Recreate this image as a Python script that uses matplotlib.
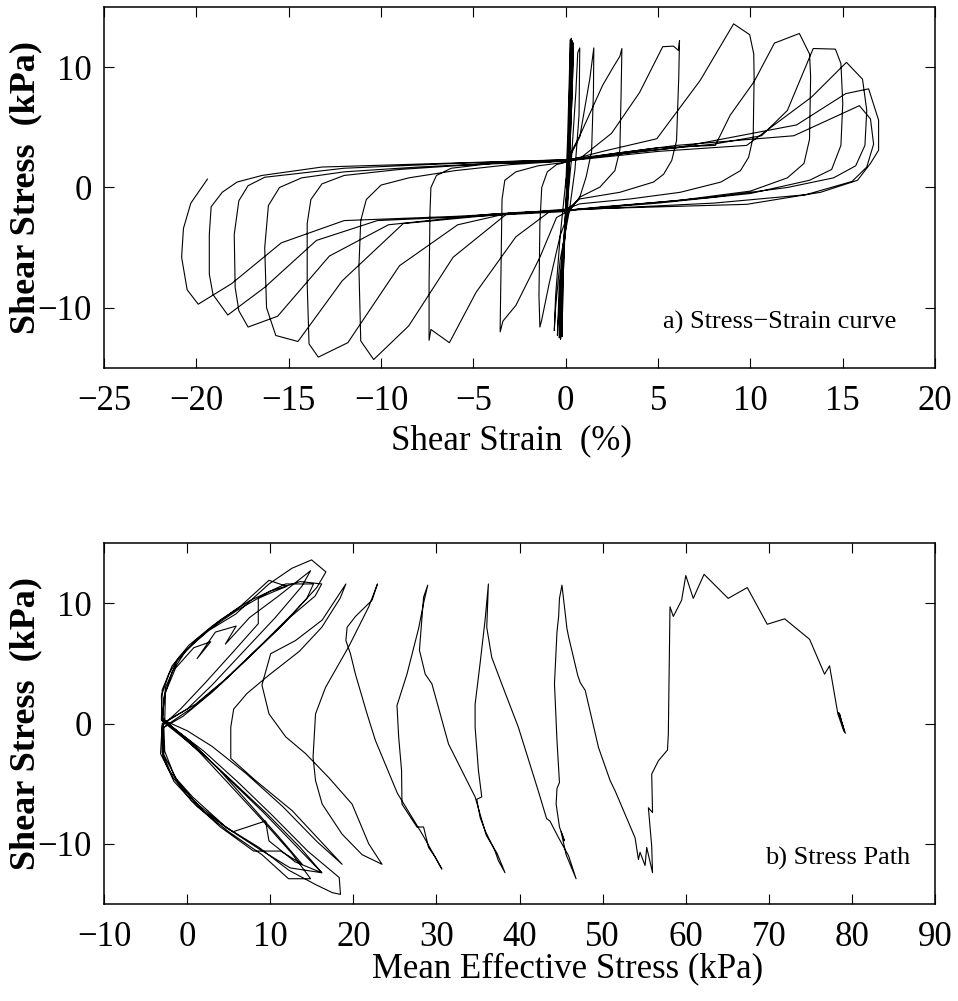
import numpy as np
import matplotlib
matplotlib.use("Agg")
import matplotlib.pyplot as plt

plt.rcParams['font.family'] = ['Liberation Serif', 'DejaVu Serif']

# ---- a) stress-strain: shear strain (%) vs shear stress (kPa), one continuous record ----
ss_early = [(0.0, 0.0), (0.1, 4.0), (0.25, 12.3),
            (0.22, 8.0), (0.12, 2.2), (0.0, -2.0), (-0.15, -8.0), (-0.2, -12.4),
            (-0.15, -8.0), (-0.02, -2.0), (0.12, 2.2), (0.2, 8.0), (0.3, 12.4),
            (0.25, 8.0), (0.15, 2.2), (0.02, -2.0), (-0.2, -8.0), (-0.28, -12.6),
            (-0.2, -8.0), (0.0, -2.0), (0.15, 2.2), (0.28, 8.0), (0.35, 12.2),
            (0.3, 8.0), (0.18, 2.2), (0.05, -2.0), (-0.25, -8.0), (-0.35, -12.5),
            (-0.28, -8.0), (0.0, -2.0), (0.2, 2.2), (0.35, 8.0), (0.42, 12.0),
            (0.35, 8.0), (0.2, 2.2), (0.1, -1.9), (-0.3, -8.0), (-0.45, -12.3),
            (-0.35, -8.0), (0.05, -1.9), (0.3, 2.2), (0.55, 8.0), (0.65, 11.2), (0.76, 11.6),
            (0.72, 6.0), (0.5, 1.5), (0.2, -1.9), (-0.3, -6.0), (-0.55, -10.0), (-0.62, -11.9)]
ss_cyc1 = [(-0.55, -9.0), (-0.3, -4.0), (0.0, 0.5), (0.3, 2.8), (0.76, 4.2), (1.3, 9.0), (1.52, 11.6),
           (1.5, 8.0), (1.4, 3.0), (1.1, 0.85), (0.76, -0.8), (0.2, -1.9), (-0.3, -4.0), (-0.9, -8.0),
           (-1.3, -11.0), (-1.4, -11.6)]
ss_cyc2 = [(-1.45, -9.0), (-1.4, -3.0), (-1.3, 0.0), (-1.0, 1.3), (-0.5, 1.9), (0.0, 2.1), (0.76, 4.3),
           (2.0, 8.5), (2.57, 10.0), (2.93, 10.9), (3.04, 11.55),
           (3.0, 8.0), (2.93, 3.1), (2.66, 1.4), (1.85, 0.03), (0.76, -0.8), (0.2, -1.9), (-0.5, -2.5),
           (-1.4, -5.8), (-2.7, -9.8), (-3.4, -11.1), (-3.55, -12.0)]
ss_cyc3 = [(-3.55, -11.5), (-3.5, -6.0), (-3.45, -1.0), (-3.3, 0.6), (-2.7, 1.3), (-1.5, 1.8), (0.0, 2.1),
           (0.76, 2.4), (2.48, 4.5), (4.0, 7.9), (5.25, 11.7), (5.83, 11.75), (6.1, 11.4), (6.16, 12.2),
           (6.12, 9.2), (6.0, 3.9), (5.74, 2.25), (5.3, 1.1), (4.75, 0.45), (2.93, -0.4), (0.76, -0.95),
           (0.0, -1.9), (-0.87, -2.0), (-2.7, -4.1), (-4.85, -8.7), (-6.3, -12.9), (-7.3, -11.8), (-7.4, -12.7)]
ss_cyc4 = [(-7.4, -8.0), (-7.35, -2.0), (-7.3, 0.0), (-7.0, 1.0), (-6.2, 1.6), (-4.0, 2.0), (-2.0, 2.1),
           (0.0, 2.2), (2.0, 3.0), (4.93, 4.05), (7.28, 8.9), (9.09, 13.6), (9.96, 12.7), (10.18, 11.1),
           (10.2, 9.2), (10.15, 4.2), (9.9, 2.5), (9.46, 1.4), (8.4, 0.45), (6.2, -0.4), (3.5, -0.95),
           (0.76, -1.36), (0.0, -1.8), (-3.2, -2.2), (-6.1, -5.8), (-8.5, -11.5), (-10.4, -14.3)]
ss_cyc5 = [(-11.1, -12.75), (-11.2, -6.6), (-11.1, -2.75), (-10.8, -1.0), (-10.0, 0.2), (-8.5, 0.8),
           (-6.0, 1.4), (-3.0, 1.9), (0.0, 2.2), (2.5, 2.8), (5.0, 3.3), (8.1, 3.5), (8.9, 6.0), (10.2, 8.8),
           (11.3, 12.0), (12.65, 12.8), (13.2, 11.1), (13.26, 9.2), (13.2, 4.0), (12.9, 2.0), (12.0, 0.8),
           (10.0, -0.3), (6.0, -1.1), (2.0, -1.6), (0.0, -1.9), (-3.0, -2.1), (-5.85, -3.1), (-9.0, -6.5),
           (-11.8, -12.9), (-13.4, -14.1)]
ss_cyc6 = [(-13.9, -13.0), (-14.0, -8.0), (-14.0, -3.0), (-13.8, -1.0), (-13.2, 0.3), (-12.0, 1.0),
           (-9.0, 1.5), (-5.0, 1.9), (0.0, 2.2), (4.0, 3.0), (8.0, 3.6), (10.6, 4.3), (12.0, 6.4),
           (13.4, 11.55), (14.6, 11.5), (14.9, 10.3), (15.0, 7.0), (14.9, 3.5), (14.4, 1.5), (13.2, 0.6),
           (10.0, -0.5), (5.0, -1.3), (0.0, -1.9), (-4.0, -2.3), (-8.8, -3.0), (-12.1, -7.75),
           (-14.5, -12.8), (-15.7, -12.3)]
ss_cyc7 = [(-16.2, -10.0), (-16.3, -5.0), (-16.1, -1.5), (-15.5, 0.0), (-14.3, 0.8), (-12.0, 1.3),
           (-8.0, 1.7), (-4.0, 2.0), (0.0, 2.2), (5.0, 3.0), (9.8, 3.5), (13.3, 7.5), (15.2, 10.4),
           (16.07, 9.0), (16.3, 6.4), (16.2, 3.5), (15.7, 1.8), (14.5, 0.8), (12.0, 0.0), (8.0, -0.8),
           (3.0, -1.5), (0.0, -1.9), (-4.0, -2.2), (-9.6, -3.1), (-12.8, -5.7), (-15.6, -10.7), (-17.2, -11.6)]
ss_cyc8 = [(-17.7, -10.25), (-17.9, -8.3), (-17.95, -3.9), (-17.7, -1.1), (-17.2, 0.15), (-16.3, 0.85),
           (-12.0, 1.6), (-6.0, 2.0), (0.0, 2.3), (6.0, 3.3), (12.5, 5.2), (15.16, 7.8), (16.4, 8.2),
           (16.94, 5.6), (16.94, 3.1), (16.5, 2.0), (15.8, 0.6), (13.8, -0.4), (9.8, -1.4), (0.76, -1.8),
           (0.0, -2.0), (-5.0, -2.4), (-10.2, -2.75), (-13.5, -4.4), (-16.3, -8.3), (-18.3, -10.6)]
ss_cyc9 = [(-19.1, -8.9), (-19.3, -7.2), (-19.3, -3.9), (-19.2, -1.6), (-18.6, -0.4), (-17.8, 0.45),
           (-16.45, 1.0), (-13.2, 1.7), (-2.5, 2.2), (0.0, 2.3), (6.0, 3.5), (12.35, 4.3), (15.9, 6.8),
           (16.5, 5.7), (16.67, 3.6), (16.3, 1.7), (15.5, 0.5), (13.0, -0.6), (8.0, -1.3), (0.0, -1.9),
           (-6.0, -2.4), (-12.0, -2.75), (-15.4, -4.6), (-18.1, -8.0), (-19.9, -9.7), (-20.5, -8.5),
           (-20.8, -5.8), (-20.7, -3.4), (-20.3, -1.3), (-19.4, 0.7)]

# ---- b) stress path: mean effective stress (kPa) vs shear stress (kPa) ----
sp_start = [(79.2, -0.8), (78.4, 0.9), (79.1, -0.7), (78.5, 0.8), (79.0, -0.6), (78.3, 0.8),
            (77.3, 4.8), (76.7, 4.1), (74.9, 7.0), (71.9, 8.7), (69.8, 8.25), (67.4, 11.3), (65.1, 10.4),
            (62.2, 12.4), (60.9, 10.4), (60.0, 12.3), (59.5, 10.25), (58.5, 8.9), (58.1, 9.7),
            (57.9, -0.86), (57.8, -2.2), (56.7, -3.1), (55.9, -4.2), (56.0, -7.4), (55.5, -7.0),
            (55.9, -10.2), (56.0, -12.4)]
sp_cycA = [(55.3, -10.3), (55.1, -11.8), (54.5, -10.7), (54.3, -11.3), (53.9, -9.5), (51.5, -5.6),
           (50.9, -4.75), (49.5, -2.0), (47.9, 2.75), (47.3, 3.4), (47.0, 4.0), (45.9, 7.2), (45.7, 7.9),
           (45.1, 11.5), (44.8, 10.4), (44.7, 8.9), (44.5, 7.6), (44.2, 3.3), (44.5, -1.4), (44.8, -4.9),
           (44.5, -5.4), (44.4, -6.7), (44.8, -8.6), (45.4, -9.75), (45.0, -9.0), (45.6, -10.9), (46.8, -12.9)]
sp_cycB = [(45.9, -11.0), (44.7, -9.5), (43.65, -8.1), (43.25, -7.9), (42.25, -5.6), (39.85, -0.3),
           (37.85, 3.3), (36.65, 5.5), (36.05, 8.0), (36.25, 11.6), (35.85, 8.6), (35.25, 5.0),
           (34.65, 1.6), (34.65, -0.3), (35.05, -3.9), (35.45, -6.1), (34.85, -6.3), (35.25, -7.8),
           (35.85, -8.9), (37.05, -10.6), (37.45, -11.4), (38.25, -12.4)]
sp_cycC = [(37.3, -10.8), (36.0, -9.3), (35.4, -7.9), (34.65, -6.1), (33.05, -3.9), (31.45, -1.7),
           (29.45, 3.3), (28.65, 4.1), (27.95, 6.1), (28.45, 10.5), (28.95, 11.5), (28.45, 10.0),
           (27.85, 7.9), (26.45, 4.1), (25.25, 1.5), (25.45, -1.1), (25.8, -3.9), (25.85, -6.7),
           (27.65, -8.6), (28.45, -8.6), (29.05, -10.3), (29.85, -11.1), (30.65, -12.1)]
sp_cycD = [(28.3, -9.2), (25.3, -5.8), (22.65, -1.4), (21.65, 0.8), (20.25, 4.1), (19.65, 5.8),
           (19.1, 6.9), (19.25, 8.0), (20.25, 8.9), (22.25, 10.25), (22.9, 11.6), (21.85, 9.7),
           (19.45, 6.4), (16.65, 3.0), (15.45, 0.8), (15.15, -2.8), (15.45, -4.75), (16.25, -6.7),
           (18.65, -9.2), (21.05, -10.9), (23.45, -11.7)]
sp_cycE = [(21.85, -10.0), (19.85, -6.7), (17.05, -4.5), (14.25, -2.5), (11.85, -1.1), (9.85, 0.8),
           (9.0, 3.2), (10.05, 5.8), (13.05, 6.9), (16.25, 8.6), (19.1, 11.6), (18.4, 10.4), (16.2, 8.0),
           (13.5, 6.0), (9.8, 4.0), (7.2, 2.5), (5.6, 1.2), (5.25, -0.3), (5.25, -2.9), (8.25, -4.75),
           (12.65, -7.25), (18.65, -11.7)]
sp_fly1 = [(15.6, -9.8), (11.5, -6.9), (7.0, -4.1), (3.0, -1.9), (0.0, -0.6), (-2.9, 0.3), (-2.8, 2.2),
           (-1.8, 4.3), (-0.2, 6.0), (2.6, 7.8), (6.0, 9.4), (10.0, 11.0), (13.6, 11.8), (16.2, 11.6),
           (15.4, 10.6), (12.5, 8.9), (8.6, 6.3), (4.2, 3.4), (0.6, 1.3), (-2.8, -0.3), (-2.7, -2.3),
           (-1.4, -4.6), (0.9, -6.5), (4.6, -8.6), (8.6, -10.4), (12.4, -12.0), (16.2, -12.4)]
sp_fly2 = [(13.6, -10.3), (9.6, -7.5), (5.6, -4.9), (2.0, -2.6), (-1.0, -0.9), (-3.0, 0.2), (-3.1, 2.3),
           (-2.2, 4.1), (-1.0, 5.5), (0.65, 6.6), (2.65, 7.75), (5.85, 9.1), (9.85, 11.6), (12.6, 12.9),
           (14.97, 13.6), (16.7, 12.6), (15.6, 11.3), (12.8, 9.2), (9.0, 6.6), (4.8, 3.8), (1.0, 1.6),
           (-3.0, 0.0), (-3.2, -2.5), (-2.2, -3.9), (0.65, -6.1), (4.65, -8.6), (8.65, -10.3),
           (12.25, -12.2), (15.5, -13.4), (17.45, -14.05), (18.45, -14.2), (18.3, -12.8)]
sp_fly3 = [(14.5, -10.6), (10.2, -7.6), (6.0, -4.8), (2.0, -2.3), (-1.2, -0.6), (-3.0, 0.4), (-2.6, 3.0),
           (-1.2, 5.2), (1.0, 6.9), (4.0, 8.6), (7.5, 10.2), (11.85, 11.6), (15.2, 11.6), (14.4, 10.4),
           (11.2, 8.0), (7.0, 5.2), (3.0, 2.6), (-0.5, 0.6), (-3.0, -0.4), (-2.9, -2.8), (-1.6, -4.8),
           (1.2, -6.9), (5.0, -9.0), (9.0, -10.9), (12.2, -12.9), (14.85, -12.9)]
sp_fly4 = [(12.6, -10.8), (9.0, -8.0), (5.0, -5.0), (1.5, -2.4), (-1.5, -0.5), (-3.1, 0.3), (-3.0, 2.8),
           (-1.8, 4.8), (0.2, 6.5), (3.0, 8.1), (6.5, 9.8), (9.84, 11.9), (12.0, 11.4), (10.2, 10.9),
           (8.56, 10.4), (8.56, 8.3), (5.6, 6.0), (2.2, 3.4), (-0.8, 1.2), (-3.0, -0.2), (-3.0, -2.4),
           (-1.8, -4.4), (0.5, -6.4), (4.0, -8.6), (8.0, -10.6), (11.25, -10.6), (13.85, -11.7)]
sp_fly5 = [(11.0, -9.4), (7.4, -6.6), (3.8, -3.8), (0.6, -1.6), (-2.7, 0.2), (-2.6, 2.6), (-1.4, 4.6),
           (0.8, 6.3), (2.84, 6.8), (1.2, 5.4), (3.4, 7.6), (5.9, 8.1), (4.6, 6.6), (7.5, 8.8),
           (11.0, 10.6), (14.85, 12.7), (13.8, 11.4), (10.6, 8.8), (6.8, 6.0), (3.0, 3.2), (0.0, 1.2),
           (-2.9, 0.0), (-2.8, -2.6), (-1.0, -5.0), (2.0, -7.3), (5.5, -9.0), (9.44, -8.1),
           (9.84, -9.75), (13.0, -11.5), (16.2, -12.4), (13.4, -10.4), (9.2, -7.4), (5.0, -4.6),
           (1.4, -2.2), (-1.6, -0.4), (-3.0, 0.5)]

strain_stress = np.array(ss_early + ss_cyc1 + ss_cyc2 + ss_cyc3 + ss_cyc4 + ss_cyc5
                         + ss_cyc6 + ss_cyc7 + ss_cyc8 + ss_cyc9)
stress_path = np.array(sp_start + sp_cycA + sp_cycB + sp_cycC + sp_cycD + sp_cycE
                       + sp_fly1 + sp_fly2 + sp_fly3 + sp_fly4 + sp_fly5)

fig = plt.figure(figsize=(9.58, 10.01), dpi=100)
ax1 = fig.add_axes([0.1086, 0.6324, 0.8675, 0.3606])
ax2 = fig.add_axes([0.1086, 0.0969, 0.8675, 0.3606])

ax1.plot(strain_stress[:, 0], strain_stress[:, 1], color='black', lw=0.8)
ax2.plot(stress_path[:, 0], stress_path[:, 1], color='black', lw=0.8)

ax1.set_xlim(-25, 20)
ax1.set_xticks(np.arange(-25, 21, 5))
ax2.set_xlim(-10, 90)
ax2.set_xticks(np.arange(-10, 91, 10))

for ax in (ax1, ax2):
    ax.set_ylim(-15, 15)
    ax.set_yticks([-10, 0, 10])
    ax.tick_params(direction='in', top=True, right=True, length=7, width=0.8,
                   labelsize=25, pad=9)
    ax.tick_params(axis='x', pad=12)
    for s in ax.spines.values():
        s.set_linewidth(1.1)
    ax.set_ylabel('Shear Stress  (kPa)', fontsize=26, fontweight='bold')
    ax.yaxis.set_label_coords(-0.074, 0.5)

ax1.set_xlabel('Shear Strain  (%)', fontsize=25)
ax1.xaxis.set_label_coords(0.49, -0.155)
ax2.set_xlabel('Mean Effective Stress (kPa)', fontsize=25)
ax2.xaxis.set_label_coords(0.558, -0.135)

ax1.text(0.954, 0.125, 'a) Stress\u2212Strain curve', transform=ax1.transAxes,
         ha='right', va='center', fontsize=19)
ax2.text(0.97, 0.127, 'b) Stress Path', transform=ax2.transAxes,
         ha='right', va='center', fontsize=19)

fig.savefig('out.png', dpi=100)
